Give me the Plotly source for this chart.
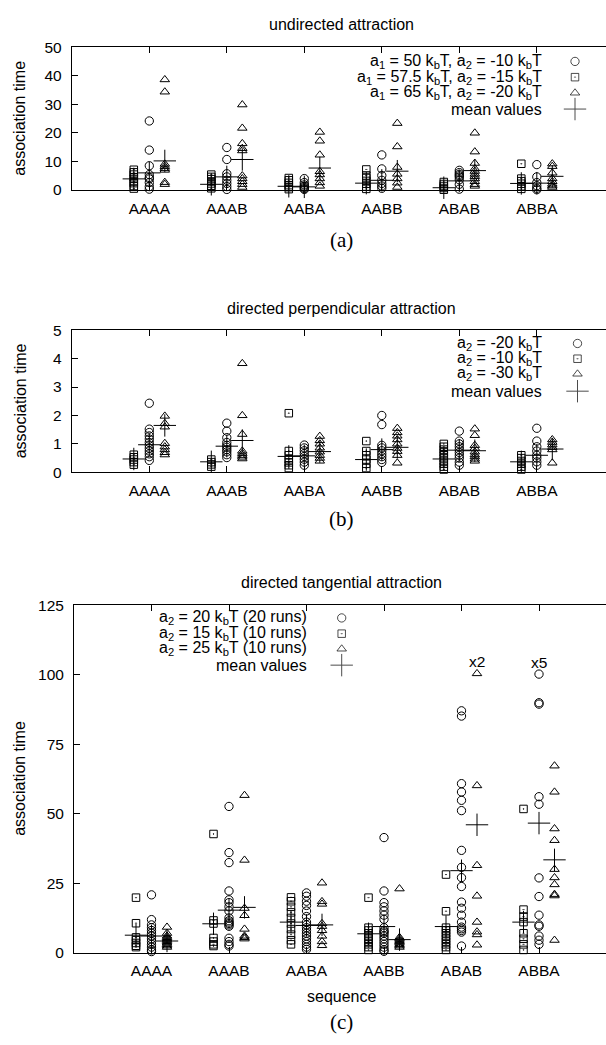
import plotly.graph_objects as go

W, H = 606, 1045

categories = ["AAAA", "AAAB", "AABA", "AABB", "ABAB", "ABBA"]

# ---------------- panel (a): undirected attraction ----------------
a_circles = [
    [24.2, 14.0, 8.5, 5.4, 4.4, 3.9, 2.6, 1.2, 0.3],
    [14.9, 10.7, 5.7, 4.6, 3.4, 2.3, 1.2, 0.2],
    [4.0, 2.6, 1.8, 1.3, 0.9, 0.5, 0.2],
    [12.3, 7.4, 5.1, 3.4, 2.3, 1.4, 0.6],
    [6.9, 6.1, 5.5, 5.0, 4.5, 3.6, 2.0, 0.3],
    [8.9, 4.6, 2.6, 1.5, 0.6, 0.1],
]
a_squares = [
    [7.1, 6.2, 5.4, 4.5, 3.9, 3.0, 2.4, 1.4, 0.5],
    [5.4, 4.6, 3.8, 3.0, 2.3, 1.5, 0.6],
    [4.2, 3.4, 2.5, 1.7, 1.0, 0.3],
    [7.2, 5.1, 4.2, 3.2, 2.2, 1.2, 0.4],
    [2.8, 2.1, 1.4, 0.7, 0.1],
    [9.2, 4.0, 3.1, 2.2, 1.3, 0.4],
]
a_triangles = [
    [38.7, 34.4, 9.1, 8.3, 7.6, 7.0, 2.7, 2.0],
    [29.9, 21.7, 16.3, 14.6, 13.8, 5.0, 4.0, 3.0, 2.0, 1.0],
    [20.3, 17.2, 12.3, 6.5, 5.4, 4.0, 2.6, 1.4],
    [23.4, 15.2, 8.0, 5.6, 4.0, 2.5, 1.0],
    [20.0, 13.4, 9.4, 7.5, 6.6, 5.6, 4.8, 4.0, 3.0, 2.0, 1.4],
    [9.2, 8.3, 6.0, 4.0, 3.0, 2.1, 1.5, 1.0],
]
a_mean_circles = [6.0, 4.6, 1.1, 3.4, 3.2, 2.4]
a_mean_squares = [3.9, 2.0, 1.3, 2.4, 0.8, 2.3]
a_mean_triangles = [10.2, 10.7, 7.7, 6.6, 6.8, 4.8]

# ---------------- panel (b): directed perpendicular attraction ----------------
b_circles = [
    [2.43, 1.52, 1.4, 1.28, 1.17, 1.05, 0.95, 0.85, 0.75, 0.65, 0.55, 0.42],
    [1.73, 1.45, 1.22, 1.05, 0.95, 0.88, 0.8, 0.72, 0.62, 0.52],
    [0.96, 0.86, 0.76, 0.66, 0.56, 0.46, 0.36, 0.25],
    [2.0, 1.68, 0.95, 0.86, 0.76, 0.65, 0.55, 0.45, 0.35],
    [1.45, 1.1, 1.0, 0.9, 0.8, 0.7, 0.6, 0.5, 0.36, 0.25],
    [1.55, 1.1, 0.9, 0.75, 0.6, 0.5, 0.37, 0.25],
]
b_squares = [
    [0.62, 0.53, 0.45, 0.36, 0.27],
    [0.45, 0.36, 0.28, 0.2],
    [2.08, 0.75, 0.6, 0.46, 0.35, 0.25, 0.15],
    [1.1, 0.75, 0.6, 0.45, 0.3, 0.15],
    [1.0, 0.9, 0.8, 0.7, 0.6, 0.5, 0.4, 0.3, 0.2, 0.1],
    [0.6, 0.5, 0.4, 0.3, 0.2, 0.1],
]
b_triangles = [
    [1.98, 1.72, 1.6, 1.02, 0.9, 0.8, 0.7, 0.62],
    [3.83, 2.0, 1.34, 0.75, 0.67, 0.6, 0.54, 0.48],
    [1.27, 1.12, 1.0, 0.86, 0.72, 0.6, 0.5, 0.4],
    [1.55, 1.4, 1.28, 1.15, 1.0, 0.85, 0.74, 0.6, 0.33],
    [1.53, 1.3, 0.95, 0.85, 0.72, 0.62, 0.55, 0.47, 0.4],
    [1.15, 1.06, 0.97, 0.88, 0.8, 0.33],
]
b_mean_circles = [0.97, 0.92, 0.58, 0.8, 0.78, 0.6]
b_mean_squares = [0.47, 0.37, 0.56, 0.45, 0.47, 0.37]
b_mean_triangles = [1.65, 1.12, 0.73, 0.88, 0.76, 0.82]

# ---------------- panel (c): directed tangential attraction ----------------
c_circles = [
    [20.8, 11.9, 10.0, 9.0, 8.0, 7.0, 6.0, 5.0, 4.0, 3.0, 2.0, 1.0, 0.4],
    [52.6, 36.0, 32.4, 22.2, 19.0, 18.0, 16.5, 15.0, 12.5, 11.5, 11.0, 10.5,
     10.0, 9.5, 5.2, 4.0, 3.0, 2.4],
    [21.5, 20.3, 18.5, 17.0, 15.0, 13.0, 11.0, 10.0, 9.0, 8.0, 7.0, 6.0, 5.0,
     4.0, 3.0, 2.0, 1.2],
    [41.4, 22.2, 18.0, 16.5, 15.0, 13.5, 12.0, 9.0, 8.0, 7.5, 7.0, 6.0, 5.0,
     4.0, 3.0, 2.0, 1.0, 0.5],
    [87.0, 85.1, 60.8, 57.8, 54.8, 51.1, 36.8, 30.7, 27.0, 23.8, 18.2, 16.0,
     13.5, 11.0, 9.2, 8.6, 8.0, 7.4, 2.4],
    [100.2, 89.9, 89.4, 56.1, 53.4, 26.9, 20.2, 13.5, 10.0, 9.5, 6.0, 4.5, 3.0],
]
c_squares = [
    [19.8, 10.6, 5.5, 4.5, 3.5, 2.5, 2.0],
    [42.7, 11.6, 10.5, 5.3, 4.0, 3.0, 2.4],
    [19.9, 18.5, 16.5, 14.5, 12.5, 10.5, 8.5, 6.5, 4.5, 3.0],
    [19.8, 9.0, 8.0, 7.0, 6.0, 5.0, 4.0, 3.0, 2.0, 1.0],
    [28.1, 14.9, 9.0, 8.0, 7.0, 6.0, 5.0, 4.0, 3.0, 2.0, 1.0],
    [51.7, 15.5, 13.0, 11.0, 7.0, 5.0, 3.0, 1.0],
]
c_triangles = [
    [9.2, 7.0, 6.0, 5.5, 5.0, 4.5, 4.0, 3.5, 3.0, 2.5, 2.0],
    [56.6, 33.3, 16.0, 13.4, 8.5, 6.0, 5.5, 5.0],
    [25.1, 18.4, 17.5, 10.5, 9.5, 8.0, 6.0, 4.0, 2.6],
    [23.0, 5.5, 5.0, 4.5, 4.0, 3.5, 3.0, 2.5, 2.0],
    [100.4, 60.1, 31.4, 20.4, 11.0, 7.5, 6.5, 2.8],
    [67.2, 57.8, 44.6, 40.4, 30.0, 27.0, 24.5, 21.0, 20.5, 4.5],
]
c_mean_circles = [6.0, 15.3, 9.8, 9.4, 29.5, 46.6]
c_mean_squares = [6.3, 10.4, 11.0, 6.8, 9.4, 11.0]
c_mean_triangles = [4.2, 16.3, 10.0, 4.7, 46.0, 33.4]

# multiplicity labels in panel (c): (category index, series offset, value, text)
c_multiplicity = [(4, 0.2, 100.4, "x2"), (5, 0.0, 100.2, "x5")]

y_ticks_a = [0, 10, 20, 30, 40, 50]
y_ticks_b = [0, 1, 2, 3, 4, 5]
y_ticks_c = [0, 25, 50, 75, 100, 125]

# ---------------- styling / layout helpers ----------------
FONT = "Liberation Sans, Arial, sans-serif"
SERIF = "Liberation Serif, Times New Roman, serif"
OFF = {"sq": -0.2, "ci": 0.0, "tr": 0.2}
PX_PER_CAT = 77.5


def px(x):
    return x / W


def py(y):
    return 1 - y / H


fig = go.Figure()

panels = [
    ("", a_circles, a_squares, a_triangles,
     a_mean_circles, a_mean_squares, a_mean_triangles, [0, 50], y_ticks_a, 39.0, 184.0, 71.8),
    ("2", b_circles, b_squares, b_triangles,
     b_mean_circles, b_mean_squares, b_mean_triangles, [0, 5], y_ticks_b, 326.5, 471.0, 71.8),
    ("3", c_circles, c_squares, c_triangles,
     c_mean_circles, c_mean_squares, c_mean_triangles, [0, 125], y_ticks_c, 606.0, 959.3, 74.0),
]

mk_line = dict(color="black", width=1)
for suf, circ, sq, tri, mc, ms, mt, yr, yt, top, bot, left in panels:
    xa, ya = "x" + suf, "y" + suf
    for data, key, sym, size in [
        (sq, "sq", "square-open-dot", 7.5),
        (circ, "ci", "circle-open", 8.3),
        (tri, "tr", "triangle-up-open", 8.3),
    ]:
        xs, ys = [], []
        for i, vals in enumerate(data):
            for v in vals:
                xs.append(i + 1 + OFF[key])
                ys.append(v)
        fig.add_trace(go.Scatter(
            x=xs, y=ys, mode="markers", xaxis=xa, yaxis=ya, showlegend=False,
            cliponaxis=False, hoverinfo="skip",
            marker=dict(symbol=sym, size=size, color="black", line=mk_line)))
    mx, my = [], []
    for means, key in [(ms, "sq"), (mc, "ci"), (mt, "tr")]:
        for i, v in enumerate(means):
            mx.append(i + 1 + OFF[key])
            my.append(v)
    fig.add_trace(go.Scatter(
        x=mx, y=my, mode="markers", xaxis=xa, yaxis=ya, showlegend=False,
        cliponaxis=False, hoverinfo="skip",
        marker=dict(symbol="cross-thin", size=16, color="black", line=mk_line)))

    xr = [0, (W - left) / PX_PER_CAT]
    axis_common = dict(showline=True, linecolor="black", linewidth=1,
                       ticks="inside", ticklen=6, tickcolor="black", tickwidth=1,
                       showgrid=False, zeroline=False, fixedrange=True,
                       tickfont=dict(family=FONT, size=15.5, color="black"))
    fig.layout["xaxis" + suf] = dict(
        domain=[px(left), 1], range=xr, anchor=ya,
        tickvals=list(range(1, len(categories) + 1)), ticktext=categories,
        mirror="ticks", ticklabelstandoff=4, **axis_common)
    fig.layout["yaxis" + suf] = dict(
        domain=[py(bot), py(top)], range=yr, anchor=xa,
        tickvals=yt, ticklabelstandoff=6, **axis_common)

for cat_i, off, val, txt in c_multiplicity:
    fig.add_annotation(x=cat_i + 1 + off, y=val, xref="x3", yref="y3", text=txt,
                       showarrow=False, yshift=12,
                       font=dict(family=FONT, size=15.5, color="black"))

# overlay pixel axis for the legend keys (transparent background)
fig.layout["xaxis4"] = dict(domain=[0, 1], range=[0, W], visible=False, anchor="y4",
                            fixedrange=True)
fig.layout["yaxis4"] = dict(domain=[0, 1], range=[H, 0], visible=False, anchor="x4",
                            fixedrange=True)

legends = [
    (543.3, 575.0, [53.3, 69.3, 85.3, 101.7],
     ["a<sub>1</sub> = 50 k<sub>b</sub>T, a<sub>2</sub> = -10 k<sub>b</sub>T",
      "a<sub>1</sub> = 57.5 k<sub>b</sub>T, a<sub>2</sub> = -15 k<sub>b</sub>T",
      "a<sub>1</sub> = 65 k<sub>b</sub>T, a<sub>2</sub> = -20 k<sub>b</sub>T",
      "mean values"]),
    (543.3, 577.5, [340.0, 355.5, 371.0, 388.5],
     ["a<sub>2</sub> = -20 k<sub>b</sub>T",
      "a<sub>2</sub> = -10 k<sub>b</sub>T",
      "a<sub>2</sub> = -30 k<sub>b</sub>T",
      "mean values"]),
    (308.3, 341.7, [619.0, 635.0, 650.5, 667.0],
     ["a<sub>2</sub> = 20 k<sub>b</sub>T (20 runs)",
      "a<sub>2</sub> = 15 k<sub>b</sub>T (10 runs)",
      "a<sub>2</sub> = 25 k<sub>b</sub>T (10 runs)",
      "mean values"]),
]
key_syms = ["circle-open", "square-open-dot", "triangle-up-open", "cross-thin"]
key_sizes = [8.3, 7.5, 8.3, 16]
for tx, sx, rows, labels in legends:
    for r, lab in zip(rows, labels):
        fig.add_annotation(x=px(tx), y=py(r), xref="paper", yref="paper",
                           xanchor="right", yanchor="middle", text=lab,
                           showarrow=False, borderpad=0,
                           font=dict(family=FONT, size=16, color="black"))
    fig.add_trace(go.Scatter(
        x=[sx] * 4, y=rows, mode="markers", xaxis="x4", yaxis="y4",
        showlegend=False, cliponaxis=False, hoverinfo="skip",
        marker=dict(symbol=key_syms, size=key_sizes, color="black", line=mk_line)))

texts = [
    ("undirected attraction", 342, 16, FONT, 16, 0),
    ("directed perpendicular attraction", 342, 304, FONT, 16, 0),
    ("directed tangential attraction", 342, 583, FONT, 16, 0),
    ("association time", 20, 111.5, FONT, 16, -90),
    ("association time", 20, 398.8, FONT, 16, -90),
    ("association time", 20, 782.6, FONT, 16, -90),
    ("sequence", 342, 1004, FONT, 16, 0),
    ("(a)", 342, 235, SERIF, 21, 0),
    ("(b)", 342, 518, SERIF, 21, 0),
    ("(c)", 342, 1030, SERIF, 21, 0),
]
for t, x, y, fam, sz, ang in texts:
    fig.add_annotation(x=px(x), y=py(y), xref="paper", yref="paper", text=t,
                       showarrow=False, xanchor="center", yanchor="middle",
                       textangle=ang, font=dict(family=fam, size=sz, color="black"))

fig.update_layout(width=W, height=H, margin=dict(l=0, r=0, t=0, b=0),
                  paper_bgcolor="white", plot_bgcolor="rgba(0,0,0,0)",
                  showlegend=False, hovermode=False, dragmode=False)

fig.write_html(
    "out.html",
    config={"displayModeBar": False, "staticPlot": True},
    post_script="document.body.style.margin='0';document.body.style.padding='0';"
                "document.body.style.overflow='hidden';",
)
